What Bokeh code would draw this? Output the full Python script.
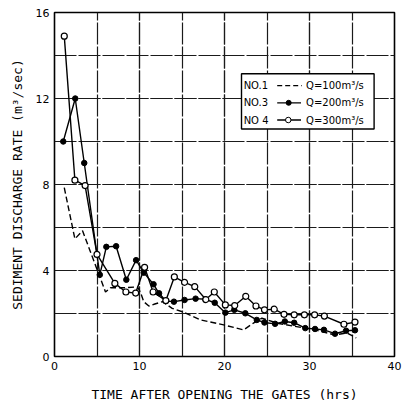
from bokeh.plotting import figure
from bokeh.models import SingleIntervalTicker, Range1d
from bokeh.core.properties import value
from bokeh.embed import file_html
from bokeh.resources import INLINE

# ---- data ----
t_q100 = [1.15, 2.4, 3.3, 6.0, 6.6, 8.3, 9.75, 10.1, 10.5, 11.1, 11.8, 12.7, 13.85,
          15.2, 17.2, 19.9, 22.25, 23.4, 24.4, 26.2, 28.3, 30.65, 33.0, 34.4, 35.5]
v_q100 = [7.85, 5.47, 5.85, 3.0, 3.2, 3.2, 3.24, 3.0, 2.55, 2.35, 2.44, 2.55, 2.24,
          2.06, 1.7, 1.47, 1.24, 1.55, 1.78, 1.55, 1.4, 1.24, 1.0, 1.1, 0.86]

t_q200 = [1.03, 2.44, 3.5, 5.33, 6.1, 7.25, 8.45, 9.6, 10.5, 11.65, 12.3, 13.1, 14.05,
          15.3, 16.6, 17.75, 18.85, 20.1, 21.15, 22.45, 23.8, 24.7, 25.95, 27.1, 28.2,
          29.5, 30.65, 31.7, 33.0, 34.3, 35.35]
v_q200 = [10.0, 12.0, 9.0, 3.8, 5.1, 5.13, 3.57, 4.48, 3.9, 3.36, 2.94, 2.58, 2.55,
          2.63, 2.69, 2.66, 2.5, 2.04, 2.17, 2.01, 1.7, 1.58, 1.52, 1.63, 1.57,
          1.32, 1.28, 1.24, 1.06, 1.2, 1.22]

t_q300 = [1.15, 2.4, 3.6, 5.0, 7.1, 8.4, 9.55, 10.6, 11.6, 13.1, 14.1, 15.3, 16.5,
          17.8, 18.8, 20.1, 21.2, 22.5, 23.7, 24.7, 25.85, 27.0, 28.2, 29.4, 30.6,
          31.75, 34.05, 35.35]
v_q300 = [14.9, 8.2, 7.95, 4.75, 3.4, 3.0, 2.95, 4.15, 3.0, 2.6, 3.7, 3.45, 3.25,
          2.65, 3.0, 2.4, 2.37, 2.8, 2.35, 2.17, 2.2, 1.96, 1.94, 1.94, 1.94,
          1.88, 1.5, 1.6]

legend_no = ["NO.1", "NO.3", "NO 4"]
legend_q = ["Q=100m³/s", "Q=200m³/s", "Q=300m³/s"]

x_title = "TIME AFTER OPENING THE GATES (hrs)"
y_title = "SEDIMENT DISCHARGE RATE (m³/sec)"

FONT = "DejaVu Sans"
TFONT = "DejaVu Sans Mono"

p = figure(frame_width=340, frame_height=344, output_backend="svg",
           toolbar_location=None, min_border_left=54, min_border_right=8,
           min_border_top=12, min_border_bottom=47,
           x_range=Range1d(0, 40), y_range=Range1d(0, 16))
p.background_fill_color = "white"
p.border_fill_color = "white"
p.outline_line_color = "black"
p.outline_line_width = 1.6

for ax, iv in ((p.xaxis[0], 10), (p.yaxis[0], 4)):
    ax.ticker = SingleIntervalTicker(interval=iv, num_minor_ticks=2)
    ax.major_tick_out = 0
    ax.major_tick_in = 0
    ax.minor_tick_out = 0
    ax.minor_tick_in = 0
    ax.axis_line_color = None
    ax.major_label_text_font = FONT
    ax.major_label_text_font_size = "11px"
    ax.major_label_text_color = "black"
    ax.axis_label_text_font = TFONT
    ax.axis_label_text_font_size = "13px"
    ax.axis_label_text_font_style = "normal"
    ax.axis_label_text_color = "black"

p.xaxis.axis_label = x_title
p.yaxis.axis_label = y_title
p.xaxis.major_label_standoff = 5
p.yaxis.major_label_standoff = 5
p.xaxis.axis_label_standoff = 14
p.yaxis.axis_label_standoff = 8

for g in (p.xgrid[0], p.ygrid[0]):
    g.grid_line_color = "#1a1a1a"
    g.grid_line_width = 1.2
    g.grid_line_dash = "22 2"
    g.minor_grid_line_color = "#1a1a1a"
    g.minor_grid_line_width = 1.2
    g.minor_grid_line_dash = "22 2"

# ---- data series ----
p.line(t_q100, v_q100, line_color="black", line_width=1.4, line_dash="6 3")
p.line(t_q200, v_q200, line_color="black", line_width=1.4)
p.scatter(t_q200, v_q200, size=5.5, fill_color="black", line_color="black")
p.line(t_q300, v_q300, line_color="black", line_width=1.4)
p.scatter(t_q300, v_q300, size=6, fill_color="white", line_color="black", line_width=1.2)

# ---- legend box (layout positions) ----
lx0, lx1, ly0, ly1 = 22.0, 37.6, 10.58, 13.15
rows = [12.6, 11.8, 11.0]
p.quad(left=[lx0], right=[lx1], bottom=[ly0], top=[ly1],
       fill_color="white", line_color="black", line_width=1.4)
p.text(x=[22.25] * 3, y=rows, text=legend_no, text_font=value(FONT),
       text_font_size="10px", text_baseline="middle", text_color="black")
p.text(x=[29.6] * 3, y=rows, text=legend_q, text_font=value(FONT),
       text_font_size="10px", text_baseline="middle", text_color="black")
p.line([26.2, 29.1], [rows[0], rows[0]], line_color="black", line_width=1.3, line_dash="5 3")
p.line([26.2, 29.0], [rows[1], rows[1]], line_color="black", line_width=1.3)
p.scatter([27.55], [rows[1]], size=5, fill_color="black", line_color="black")
p.line([26.2, 29.0], [rows[2], rows[2]], line_color="black", line_width=1.3)
p.scatter([27.5], [rows[2]], size=5.5, fill_color="white", line_color="black", line_width=1)

open("out.html", "w").write(file_html(p, INLINE))
